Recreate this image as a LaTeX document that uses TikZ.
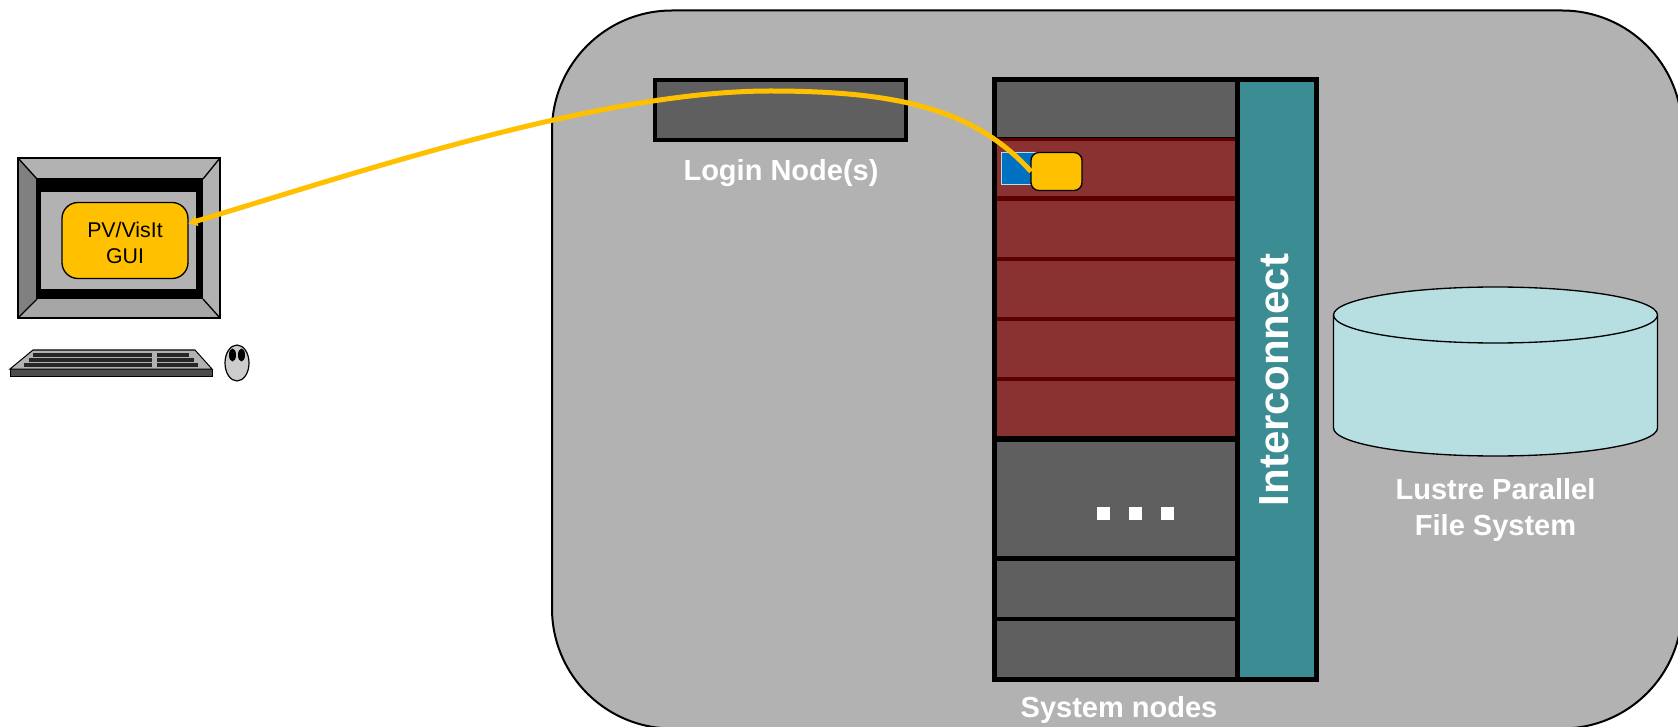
\documentclass[tikz,border=0pt]{standalone}
\usepackage{fontspec}
\setmainfont{Liberation Sans}
\usetikzlibrary{arrows.meta,shapes.geometric}
\definecolor{bigG}{HTML}{B2B2B2}
\definecolor{cellG}{HTML}{5F5F5F}
\definecolor{redC}{HTML}{8A3232}
\definecolor{redL}{HTML}{5C0000}
\definecolor{tealC}{HTML}{3C8C94}
\definecolor{cylC}{HTML}{B7DFE2}
\definecolor{yel}{HTML}{FFC000}
\definecolor{blueC}{HTML}{0070C0}
\tikzset{
  px/.style={x=0.75pt,y=-0.75pt},
  box/.style={rectangle,inner sep=0pt,outer sep=0pt,anchor=center},
  graycell/.style={box,fill=cellG,draw=black,line width=3.6pt},
  redcell/.style={box,fill=redC,minimum width=240*0.75pt,minimum height=60*0.75pt},
  redline/.style={draw=redL,line width=3.6pt},
  wlabel/.style={text=white,align=center,font=\fontsize{21.75}{27}\bfseries\selectfont,inner sep=0pt},
  dotsq/.style={box,fill=white,minimum width=9.75pt,minimum height=9.75pt},
  keybar/.style={fill=black!85,draw=none},
  edge/.style={draw=black,line width=1pt,line join=round}
}
\begin{document}
\begin{tikzpicture}[px]
\clip (0,0) rectangle (1678,727);
\fill[white] (0,0) rectangle (1678,727);
% big cabinet
\node[box,fill=bigG,draw=black,line width=1.5pt,rounded corners=90pt,minimum width=1130*0.75pt,minimum height=718*0.75pt] (cabinet) at (1117,369.5) {};
% login node
\node[graycell,minimum width=251*0.75pt,minimum height=60*0.75pt] (login) at (780.5,110) {};
\node[wlabel] (loginL) at (781,173.5) {Login Node(s)};
% rack cells
\node[graycell,minimum width=243*0.75pt,minimum height=59.5*0.75pt] (top) at (1116,109.25) {};
\node[redcell,minimum height=59*0.75pt] (r1) at (1116,169) {};
\node[redcell] (r2) at (1116,229) {};
\node[redcell] (r3) at (1116,289) {};
\node[redcell] (r4) at (1116,349) {};
\node[redcell,minimum height=59*0.75pt] (r5) at (1116,408.5) {};
\draw[draw=redL,line width=2pt] (r1.north west) -- (r1.north east);
\draw[redline] (r1.south west) -- (r1.south east);
\draw[redline] (r2.south west) -- (r2.south east);
\draw[redline] (r3.south west) -- (r3.south east);
\draw[redline] (r4.south west) -- (r4.south east);
\node[graycell,minimum width=243*0.75pt,minimum height=120*0.75pt] (g1) at (1116,498.5) {};
\node[graycell,minimum width=243*0.75pt,minimum height=61*0.75pt] (g2) at (1116,589) {};
\node[graycell,minimum width=243*0.75pt,minimum height=60*0.75pt] (g3) at (1116,649) {};
\node[box,fill=tealC,minimum width=79*0.75pt,minimum height=600*0.75pt] (ic) at (1277,379.5) {};
\node[box,draw=black,line width=3.6pt,minimum width=322*0.75pt,minimum height=600*0.75pt] (rack) at (1155.5,379.5) {};
\draw[black,line width=3.6pt] (ic.north west) -- (ic.south west);
\draw[black,line width=4.5pt] (rack.west |- g1.north) -- (ic.west |- g1.north);
\node[text=white,font=\fontsize{31.5}{36}\bfseries\selectfont,rotate=90,inner sep=0pt] (icL) at (1274,380) {Interconnect};
\node[dotsq] (d1) at (1103.5,513.5) {};
\node[dotsq] (d2) at (1135.5,513.5) {};
\node[dotsq] (d3) at (1167.5,513.5) {};
\node[wlabel] (sysL) at (1119,710) {System nodes};
% cylinder
\draw[edge,fill=cylC] (1333.5,315) -- (1333.5,428) arc[start angle=180,end angle=0,x radius=162,y radius=28] -- (1657.5,315);
\node[ellipse,inner sep=0pt,outer sep=0pt,draw=black,line width=1pt,fill=cylC,minimum width=324*0.75pt,minimum height=56*0.75pt] (cyl) at (1495.5,315) {};
\node[wlabel] (cylL) at (1495.5,510) {Lustre Parallel\\File System};
% monitor
\fill[bigG] (18,158) rectangle (220,318);
\fill[gray] (18,158) -- (36,178) -- (36,299) -- (18,318) -- cycle;
\fill[black!35] (36,299) -- (203,299) -- (220,318) -- (18,318) -- cycle;
\draw[black,line width=1.2pt] (18,158) rectangle (220,318);
\draw[black,line width=1pt] (18,158) -- (37,179) (220,158) -- (203,179) (18,318) -- (37,299) (220,318) -- (203,299);
\fill[black] (36,178) rectangle (203,299);
\fill[bigG] (41,192) rectangle (196,289);
\node[box,fill=yel,draw=black,line width=1pt,rounded corners=12pt,minimum width=126*0.75pt,minimum height=76*0.75pt] (gui) at (125,240.5) {};
\node[inner sep=0pt,align=center,font=\fontsize{16}{19}\selectfont] (guiL) at (125,243) {PV/VisIt\\GUI};
% keyboard
\fill[black!70,draw=black!70] (10,369) rectangle (212,376);
\draw[fill=bigG,draw=black,line width=.75pt] (10,369) -- (33,350) -- (195,350) -- (212,369) -- cycle;
\draw[draw=black,line width=.75pt] (10,369) -- (10,376) -- (212,376) -- (212,369);
\fill[keybar] (33,353) rectangle (152,357);
\fill[keybar] (29,358) rectangle (152,362);
\fill[keybar] (24,363) rectangle (152,367);
\fill[keybar] (157,353) rectangle (189,357);
\fill[keybar] (157,358) rectangle (194,362);
\fill[keybar] (157,363) rectangle (198,367);
% mouse
\node[ellipse,inner sep=0pt,outer sep=0pt,draw=black,line width=.9pt,fill=black!20,minimum width=24*0.75pt,minimum height=36*0.75pt] (mouse) at (237,363) {};
\node[ellipse,inner sep=0pt,outer sep=0pt,fill=black,minimum width=7*0.75pt,minimum height=13*0.75pt] (eyeA) at (232.5,355) {};
\node[ellipse,inner sep=0pt,outer sep=0pt,fill=black,minimum width=7*0.75pt,minimum height=13*0.75pt] (eyeB) at (241.5,355) {};
% process on node
\draw[draw=cylC,fill=blueC,line width=.75pt] (1001.5,152.5) rectangle (1040,185);
\node[box,fill=yel,draw=black,line width=1pt,rounded corners=6pt,minimum width=51*0.75pt,minimum height=38*0.75pt] (vm) at (1056.5,171.5) {};
% connection
\draw[yel,line width=3.75pt,{Latex[length=7pt,width=9pt]}-] (gui.15) .. controls (360,172) and (600,91) .. (770,91) .. controls (900,91) and (975,110) .. (vm.west);
\end{tikzpicture}
\end{document}
